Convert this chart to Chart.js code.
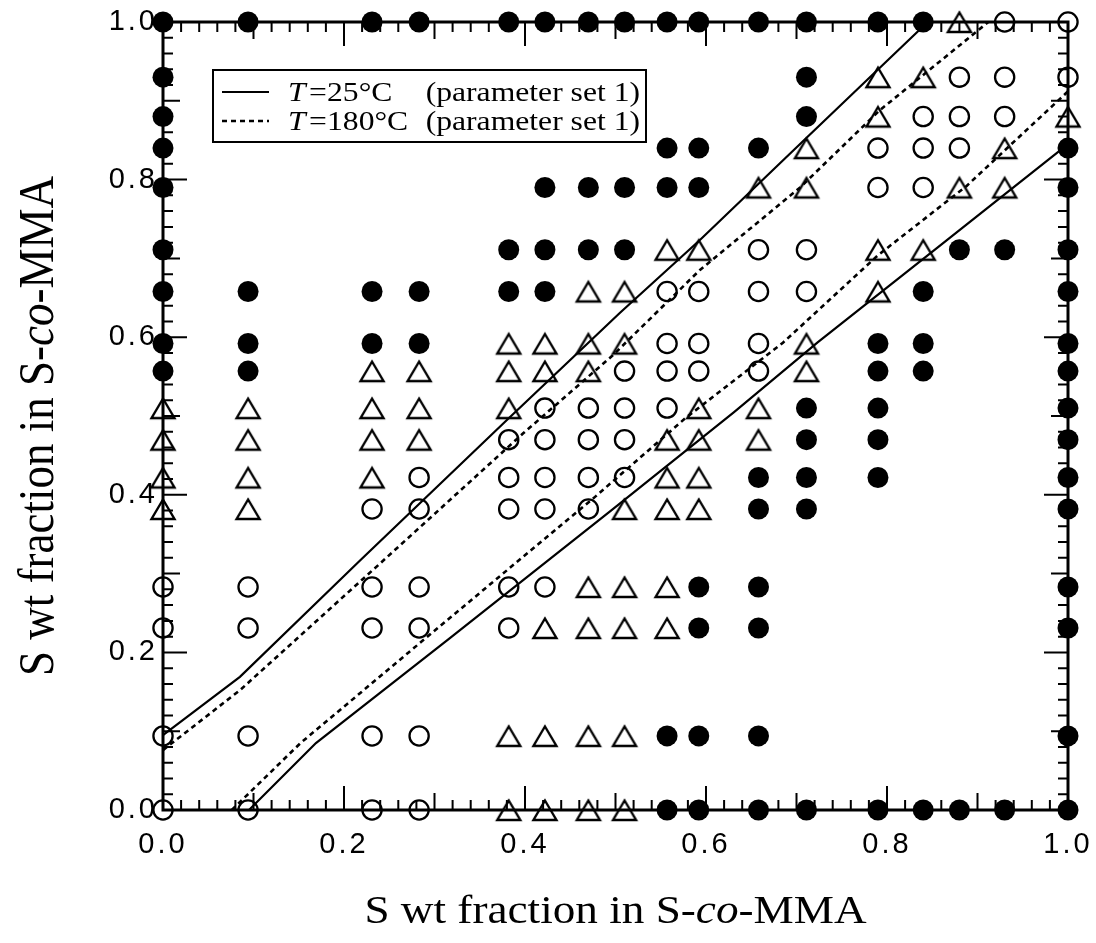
<!DOCTYPE html>
<html>
<head>
<meta charset="utf-8">
<title>S wt fraction in S-co-MMA</title>
<script src="https://cdn.jsdelivr.net/npm/chart.js@4.4.1/dist/chart.umd.min.js"></script>
<style>
  html, body { margin: 0; padding: 0; background: #fff; }
  #wrap { width: 1096px; height: 943px; }
</style>
</head>
<body>
<div id="wrap"><canvas id="chart" width="1096" height="943"></canvas></div>
<script>
// S wt fraction of the copolymers, the same set is used on both axes
const sComp = [0, 0.094, 0.231, 0.283, 0.382, 0.422, 0.47, 0.51, 0.557, 0.592, 0.658, 0.711, 0.79, 0.84, 0.88, 0.93, 1.0];

// one string per y composition, top row is y = 1.0, bottom row y = 0.0
// F = filled circle, O = open circle, T = triangle, . = not measured
const phaseRows = [
  'FFFFFFFFFFFFFFTOO',
  'F..........FTTOOO',
  'F..........FTOOOT',
  'F.......FFFTOOOTF',
  'F....FFFFFTTOOTTF',
  'F...FFFFTTOOTTFFF',
  'FFFFFFTTOOOOTF..F',
  'FFFFTTTTOOOTFF..F',
  'FFTTTTTOOOOTFF..F',
  'TTTTTOOOOTTFF...F',
  'TTTTOOOOTTTFF...F',
  'TTTOOOOOTTFFF...F',
  'TTOOOOOTTTFF....F',
  'OOOOOOTTTFF.....F',
  'OOOOOTTTTFF.....F',
  'OOOOTTTTFFF.....F',
  'OOOOTTTTFFFFFFFFF'
];

// calculated boundaries, T = 25°C (solid) and T = 180°C (dotted)
const upper25X = [0, 0.085, 0.218, 0.38, 0.505, 0.593, 0.712, 0.845];
const upper25Y = [0.095, 0.169, 0.317, 0.495, 0.631, 0.723, 0.854, 1.0];
const lower25X = [0.095, 0.169, 0.317, 0.495, 0.631, 0.723, 0.854, 1.0];
const lower25Y = [0, 0.085, 0.218, 0.38, 0.505, 0.593, 0.712, 0.845];
const upper180X = [0, 0.085, 0.24, 0.398, 0.497, 0.593, 0.704, 0.792, 0.912];
const upper180Y = [0.076, 0.152, 0.313, 0.478, 0.577, 0.685, 0.79, 0.888, 1.0];
const lower180X = [0.076, 0.152, 0.313, 0.478, 0.577, 0.685, 0.79, 0.888, 1.0];
const lower180Y = [0, 0.085, 0.24, 0.398, 0.497, 0.593, 0.704, 0.792, 0.912];

const legendTemps = ['25°C', '180°C'];
const legendNote = '(parameter set 1)';
const tickStep = 0.2;
const minorStep = 0.02;

const SERIF = '"Liberation Serif", "Times New Roman", serif';
const SANS = '"Liberation Sans", Arial, sans-serif';
const STRETCH = 1.13; // the scanned figure is a bit wider than tall

function pointsOf(code) {
  const pts = [];
  phaseRows.forEach((row, i) => {
    const y = sComp[sComp.length - 1 - i];
    [...row].forEach((c, j) => {
      if (c === code) pts.push({ x: sComp[j], y: y });
    });
  });
  return pts;
}

const zip = (xs, ys) => xs.map((x, i) => ({ x: x, y: ys[i] }));

// open triangle, centred on its box like the original symbols
function makeTriangle() {
  const c = document.createElement('canvas');
  c.width = 30;
  c.height = 30;
  const g = c.getContext('2d');
  g.strokeStyle = '#000';
  g.lineWidth = 2.4;
  g.beginPath();
  g.moveTo(15, 5.5);
  g.lineTo(26.5, 25);
  g.lineTo(3.5, 25);
  g.closePath();
  g.stroke();
  return c;
}

// text made of plain / italic pieces
function drawRuns(ctx, runs, size, x, y, align, sx) {
  const fonts = runs.map(r => (r.italic ? 'italic ' : '') + size + 'px ' + SERIF);
  const widths = runs.map((r, i) => { ctx.font = fonts[i]; return ctx.measureText(r.text).width; });
  const total = widths.reduce((a, b) => a + b, 0);
  ctx.save();
  ctx.translate(x, y);
  ctx.scale(sx, 1);
  let cx = align === 'center' ? -total / 2 : (align === 'right' ? -total : 0);
  ctx.textAlign = 'left';
  ctx.textBaseline = 'alphabetic';
  ctx.fillStyle = '#000';
  runs.forEach((r, i) => {
    ctx.font = fonts[i];
    ctx.fillText(r.text, cx, 0);
    cx += widths[i];
  });
  ctx.restore();
}

const titleRuns = [
  { text: 'S wt fraction in S-' },
  { text: 'co', italic: true },
  { text: '-MMA' }
];

// frame with inward ticks on all four sides
const frameTicks = {
  id: 'frameTicks',
  beforeDraw(chart) {
    chart.ctx.letterSpacing = '3px';
  },
  beforeDatasetsDraw(chart) {
    const { ctx, chartArea: a, scales: { x, y } } = chart;
    ctx.save();
    ctx.letterSpacing = '0px';
    ctx.strokeStyle = '#000';
    ctx.lineWidth = 2;
    const n = Math.round(1 / minorStep);
    for (let k = 1; k < n; k++) {
      const v = k * minorStep;
      const len = k % 10 === 0 ? 24 : (k % 5 === 0 ? 17 : 10);
      const px = x.getPixelForValue(v);
      const py = y.getPixelForValue(v);
      ctx.beginPath();
      ctx.moveTo(px, a.bottom); ctx.lineTo(px, a.bottom - len);
      ctx.moveTo(px, a.top); ctx.lineTo(px, a.top + len);
      ctx.moveTo(a.left, py); ctx.lineTo(a.left + len, py);
      ctx.moveTo(a.right, py); ctx.lineTo(a.right - len, py);
      ctx.stroke();
    }
    ctx.lineWidth = 3;
    ctx.strokeRect(a.left, a.top, a.right - a.left, a.bottom - a.top);
    ctx.restore();
  },
  afterDraw(chart) {
    const { ctx, chartArea: a } = chart;
    ctx.save();
    ctx.letterSpacing = '0px';

    // legend box
    const bx = a.left + 50, by = a.top + 48, bw = 433, bh = 72;
    ctx.fillStyle = '#fff';
    ctx.fillRect(bx, by, bw, bh);
    ctx.strokeStyle = '#000';
    ctx.lineWidth = 2;
    ctx.strokeRect(bx, by, bw, bh);
    const lineSets = [chart.data.datasets[0], chart.data.datasets[2]];
    legendTemps.forEach((t, i) => {
      const base = by + 31 + i * 29;
      const ds = lineSets[i];
      ctx.save();
      ctx.lineWidth = ds.borderWidth;
      ctx.setLineDash(ds.borderDash || []);
      ctx.beginPath();
      ctx.moveTo(bx + 9, base - 9);
      ctx.lineTo(bx + 56, base - 9);
      ctx.stroke();
      ctx.restore();
      drawRuns(ctx, [{ text: 'T', italic: true }], 28, bx + 75, base, 'left', STRETCH);
      drawRuns(ctx, [{ text: '=' }], 28, bx + 96, base, 'left', STRETCH);
      drawRuns(ctx, [{ text: t }], 28, bx + 114, base, 'left', STRETCH);
      drawRuns(ctx, [{ text: legendNote }], 28, bx + bw - 6, base, 'right', STRETCH);
    });

    // axis titles
    drawRuns(ctx, titleRuns, 40, (a.left + a.right) / 2, 923, 'center', STRETCH);
    ctx.save();
    ctx.translate(53, 426);
    ctx.rotate(-Math.PI / 2);
    ctx.scale(1, STRETCH);
    drawRuns(ctx, titleRuns, 45, 0, 0, 'center', 1);
    ctx.restore();

    ctx.restore();
  }
};

const triangle = makeTriangle();

const lineBase = { showLine: true, pointRadius: 0, borderColor: '#000', fill: false, tension: 0, clip: false };

new Chart(document.getElementById('chart'), {
  type: 'scatter',
  data: {
    datasets: [
      Object.assign({ label: 'T = 25°C', data: zip(upper25X, upper25Y), borderWidth: 2.2 }, lineBase),
      Object.assign({ label: 'T = 25°C', data: zip(lower25X, lower25Y), borderWidth: 2.2 }, lineBase),
      Object.assign({ label: 'T = 180°C', data: zip(upper180X, upper180Y), borderWidth: 2.6, borderDash: [5, 4] }, lineBase),
      Object.assign({ label: 'T = 180°C', data: zip(lower180X, lower180Y), borderWidth: 2.6, borderDash: [5, 4] }, lineBase),
      {
        label: 'filled',
        data: pointsOf('F'),
        pointStyle: 'circle',
        pointRadius: 10.5,
        backgroundColor: '#000',
        borderColor: '#000',
        borderWidth: 0,
        clip: false
      },
      {
        label: 'open',
        data: pointsOf('O'),
        pointStyle: 'circle',
        pointRadius: 9.6,
        backgroundColor: 'rgba(0,0,0,0)',
        borderColor: '#000',
        borderWidth: 2.3,
        clip: false
      },
      {
        label: 'triangle',
        data: pointsOf('T'),
        pointStyle: triangle,
        pointRadius: 11,
        clip: false
      }
    ]
  },
  options: {
    responsive: false,
    animation: false,
    events: [],
    layout: { padding: { top: 22, right: 28, left: 0, bottom: 0 } },
    plugins: {
      legend: { display: false },
      tooltip: { enabled: false }
    },
    scales: {
      x: {
        type: 'linear',
        min: 0,
        max: 1,
        afterFit: s => { s.height = 133; s.paddingLeft = 0; s.paddingRight = 0; },
        grid: { display: false, drawTicks: false },
        border: { display: false },
        ticks: {
          stepSize: tickStep,
          padding: 18,
          color: '#000',
          maxRotation: 0,
          font: { family: SANS, size: 29 },
          callback: v => v.toFixed(1)
        }
      },
      y: {
        type: 'linear',
        min: 0,
        max: 1,
        afterFit: s => { s.width = 163; s.paddingTop = 0; s.paddingBottom = 0; },
        grid: { display: false, drawTicks: false },
        border: { display: false },
        ticks: {
          stepSize: tickStep,
          padding: 5,
          color: '#000',
          font: { family: SANS, size: 29 },
          callback: v => v.toFixed(1)
        }
      }
    }
  },
  plugins: [frameTicks]
});
</script>
</body>
</html>
